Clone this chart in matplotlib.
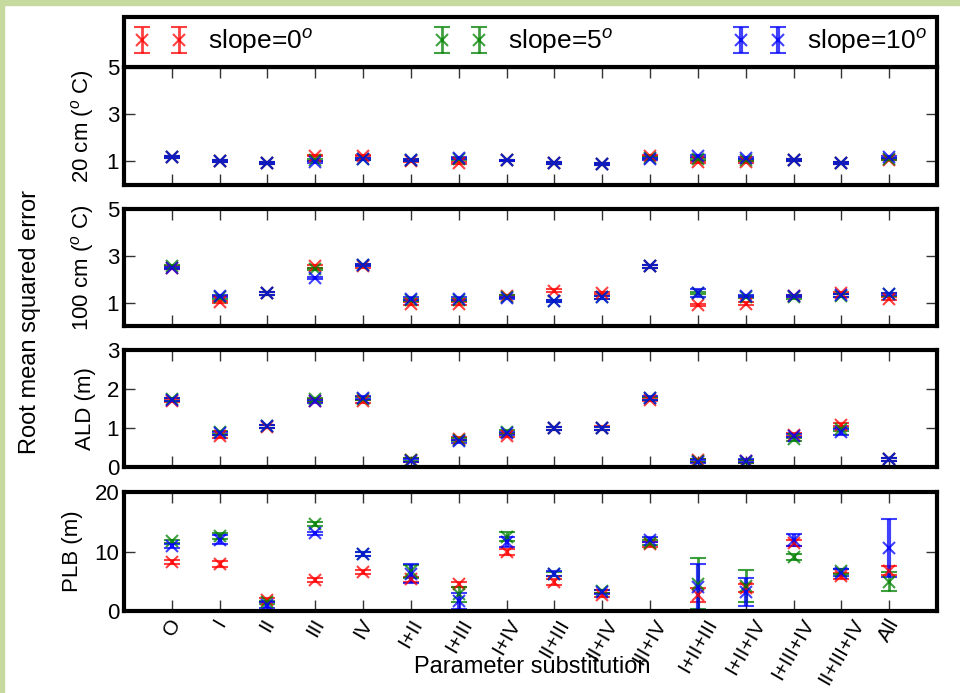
import numpy as np
import matplotlib
matplotlib.use("Agg")
import matplotlib.pyplot as plt
from matplotlib.patches import Rectangle

plt.rcParams['font.family'] = ['Liberation Sans', 'DejaVu Sans']
plt.rcParams['mathtext.fontset'] = 'custom'
plt.rcParams['mathtext.it'] = 'Liberation Sans:italic'
plt.rcParams['mathtext.rm'] = 'Liberation Sans'

# Dados =======================================================================
categorias = ['O', 'I', 'II', 'III', 'IV', 'I+II', 'I+III', 'I+IV', 'II+III', 'II+IV',
              'III+IV', 'I+II+III', 'I+II+IV', 'I+III+IV', 'II+III+IV', 'All']

# 20 cm
t20_s0 = [1.17, 1.02, 0.95, 1.25, 1.25, 1.03, 0.95, 1.04, 0.95, 0.89, 1.25, 0.98, 0.98, 1.05, 0.93, 1.08]
t20_s5 = [1.18, 1.02, 0.95, 1.07, 1.12, 1.06, 1.10, 1.04, 0.95, 0.89, 1.15, 1.10, 1.06, 1.05, 0.93, 1.12]
t20_s10 = [1.17, 1.02, 0.94, 0.97, 1.11, 1.06, 1.14, 1.04, 0.95, 0.89, 1.12, 1.22, 1.15, 1.05, 0.93, 1.18]
t20_err = [0.04] * 16

# 100 cm
t100_s0 = [2.50, 1.03, 1.39, 2.55, 2.55, 0.96, 0.96, 1.28, 1.51, 1.42, 2.55, 0.89, 0.96, 1.27, 1.42, 1.17]
t100_s5 = [2.55, 1.22, 1.39, 2.44, 2.62, 1.12, 1.12, 1.26, 1.07, 1.22, 2.55, 1.40, 1.25, 1.22, 1.30, 1.35]
t100_s10 = [2.48, 1.27, 1.39, 2.04, 2.60, 1.17, 1.17, 1.20, 1.07, 1.22, 2.55, 1.41, 1.28, 1.28, 1.31, 1.38]
t100_err = [0.05] * 16
t100_err_s10 = [0.05] * 11 + [0.15] + [0.05] * 4

# ALD
ald_s0 = [1.70, 0.79, 1.03, 1.70, 1.68, 0.18, 0.73, 0.80, 0.99, 1.00, 1.72, 0.17, 0.15, 0.83, 1.08, 0.20]
ald_s5 = [1.74, 0.89, 1.04, 1.74, 1.75, 0.19, 0.70, 0.91, 0.99, 0.99, 1.76, 0.16, 0.13, 0.71, 0.97, 0.20]
ald_s10 = [1.73, 0.86, 1.04, 1.68, 1.78, 0.16, 0.66, 0.86, 0.99, 0.99, 1.77, 0.14, 0.16, 0.80, 0.90, 0.20]
ald_err = [0.04] * 16
ald_err_s10 = [0.04] * 14 + [0.07, 0.04]

# PLB
plb_s0 = [8.2, 7.9, 1.85, 5.2, 6.6, 5.3, 4.5, 9.9, 4.9, 2.7, 11.2, 2.7, 3.9, 11.4, 5.9, 6.8]
plb_err_s0 = [0.3, 0.5, 0.35, 0.3, 0.3, 0.45, 0.4, 0.5, 0.5, 0.4, 0.4, 1.2, 0.7, 0.5, 0.5, 0.75]
plb_s5 = [11.7, 12.6, 1.45, 14.6, 9.6, 6.7, 2.8, 12.5, 6.2, 3.3, 11.5, 4.6, 4.2, 9.1, 6.7, 4.9]
plb_err_s5 = [0.3, 0.5, 0.3, 0.3, 0.3, 1.1, 1.3, 0.7, 0.3, 0.3, 0.4, 4.3, 2.7, 0.5, 0.4, 1.6]
plb_s10 = [10.9, 12.0, 1.0, 13.05, 9.6, 6.3, 1.7, 11.6, 6.3, 3.2, 12.0, 4.0, 3.2, 11.9, 6.4, 10.6]
plb_err_s10 = [0.3, 0.7, 0.5, 0.3, 0.3, 1.6, 1.3, 0.8, 0.4, 0.3, 0.4, 3.9, 2.3, 1.0, 0.6, 4.9]

rotulos = ['slope=0$^o$', 'slope=5$^o$', 'slope=10$^o$']
cores = ['r', 'g', 'b']

paineis = [
    ('20 cm ($^o$ C)', (0, 5), [1, 3, 5],
     [(t20_s0, t20_err), (t20_s5, t20_err), (t20_s10, t20_err)]),
    ('100 cm ($^o$ C)', (0, 5), [1, 3, 5],
     [(t100_s0, t100_err), (t100_s5, t100_err), (t100_s10, t100_err_s10)]),
    ('ALD (m)', (0, 3), [0, 1, 2, 3],
     [(ald_s0, ald_err), (ald_s5, ald_err), (ald_s10, ald_err_s10)]),
    ('PLB (m)', (0, 20), [0, 10, 20],
     [(plb_s0, plb_err_s0), (plb_s5, plb_err_s5), (plb_s10, plb_err_s10)]),
]

# Figura ======================================================================
fig = plt.figure(figsize=(9.6, 6.93), dpi=100)
fig.patches.append(Rectangle((0, 1 - 5 / 693), 1, 5 / 693, transform=fig.transFigure,
                             color='#c6d99f', zorder=-1))
fig.patches.append(Rectangle((0, 0), 4 / 960, 1, transform=fig.transFigure,
                             color='#c6d99f', zorder=-1))

esq, larg = 124 / 960, 813 / 960
posicoes = [(67, 185), (209, 326), (350, 467), (492, 611)]
x = np.arange(len(categorias))

handles = []
for i, ((ylab, ylim, yticks, series), (top, bot)) in enumerate(zip(paineis, posicoes)):
    ax = fig.add_axes([esq, 1 - bot / 693, larg, (bot - top) / 693])
    for j, ((vals, errs), cor) in enumerate(zip(series, cores)):
        lw = 3 if cor == 'b' else 2
        h = ax.errorbar(x, vals, yerr=errs, fmt='x', color=cor, ecolor=cor, ms=8, mew=1.5,
                        elinewidth=lw, capsize=6, capthick=2, alpha=0.75)
        if i == 0:
            handles.append(h)
    ax.set_xlim(-1, 16)
    ax.set_ylim(*ylim)
    ax.set_yticks(yticks)
    ax.set_xticks(x)
    ax.set_ylabel(ylab, fontsize=16, labelpad=8)
    ax.tick_params(direction='in', length=8, width=1, color='#333333', labelsize=16,
                   top=True, right=True)
    for s in ax.spines.values():
        s.set_linewidth(3)
    if i < 3:
        ax.set_xticklabels([])
    else:
        ax.set_xticklabels(categorias, rotation=60, fontsize=15)
        ax.set_xlabel('Parameter substitution', fontsize=17)
        ax.xaxis.set_label_coords(0.502, -0.38)

fig.text(0.031, 0.535, 'Root mean squared error', rotation=90, ha='center', va='center',
         fontsize=17)

leg = fig.legend(handles, rotulos, loc='lower left',
                 bbox_to_anchor=(esq, 1 - 67 / 693, larg, 55 / 693), mode='expand',
                 ncol=3, numpoints=2, fontsize=19, fancybox=False, framealpha=1,
                 borderaxespad=0, borderpad=0.4, edgecolor='black')
leg.get_frame().set_linewidth(3)

fig.savefig('out.png', dpi=100)
